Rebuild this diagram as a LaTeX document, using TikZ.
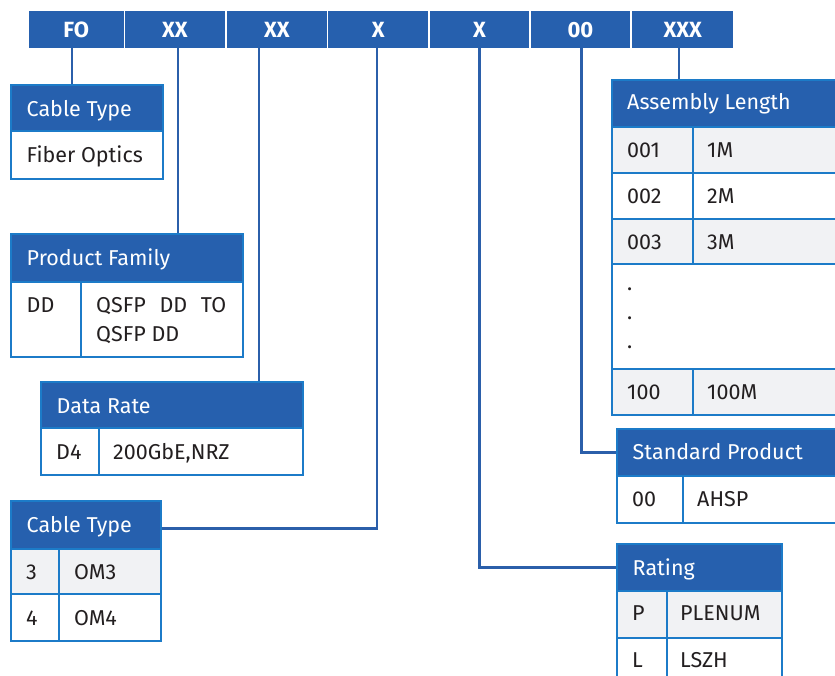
\documentclass[tikz,border=0pt]{standalone}
\usepackage{fontspec}
\setmainfont{Fira Sans}
\definecolor{hdrblue}{HTML}{2660AE}
\definecolor{bordblue}{HTML}{1C7BC8}
\definecolor{linkblue}{HTML}{2B5FAA}
\definecolor{rowgray}{HTML}{F1F2F4}
\definecolor{txtdark}{HTML}{231F20}
\tikzset{
  codebox/.style={fill=hdrblue, draw=none, anchor=north west, minimum height=37pt, inner sep=0pt, text=white, font=\fontsize{22}{22}\selectfont\bfseries},
  tcell/.style={draw=bordblue, line width=2pt, anchor=north west, inner sep=0pt},
  hcell/.style={tcell, fill=hdrblue},
  wcell/.style={tcell, fill=white},
  gcell/.style={tcell, fill=rowgray},
  htext/.style={anchor=base west, inner sep=0pt, text=white, font=\fontsize{21.5}{21.5}\selectfont},
  btext/.style={anchor=base west, inner sep=0pt, text=txtdark, font=\fontsize{21.5}{21.5}\selectfont},
  conn/.style={draw=linkblue, line width=2.2pt}
}
\begin{document}
\begin{tikzpicture}[x=1pt,y=-1pt]
\useasboundingbox (0,0) rectangle (835,675);
\clip (0,0) rectangle (835,675);
% code bar
\node[codebox, minimum width=95pt] (kFO) at (28.5,11) {FO};
\node[codebox, minimum width=99.5pt] (kXXa) at (125,11) {XX};
\node[codebox, minimum width=99.5pt] (kXXb) at (227,11) {XX};
\node[codebox, minimum width=100pt] (kXa) at (328,11) {X};
\node[codebox, minimum width=98.5pt] (kXb) at (430,11) {X};
\node[codebox, minimum width=98.5pt] (kOO) at (531,11) {00};
\node[codebox, minimum width=101pt] (kXXX) at (632,11) {XXX};
% Cable Type 1
\node[hcell, minimum width=152pt, minimum height=46pt] (cth) at (10,84) {};
\node[wcell, minimum width=152pt, minimum height=48pt] (ctb) at (10,130) {};
\node[htext] (ctht) at (26.5,116) {Cable Type};
\node[btext] (ctbt) at (26.5,162) {Fiber Optics};
% Product Family
\node[hcell, minimum width=232pt, minimum height=48pt] (pfh) at (10,233) {};
\node[wcell, minimum width=70pt, minimum height=75pt] (pfa) at (10,281) {};
\node[wcell, minimum width=162pt, minimum height=75pt] (pfb) at (80,281) {};
\node[htext] (pfht) at (26.5,265) {Product Family};
\node[btext] (pfat) at (26.5,312) {DD};
\node[btext] (pfbt) at (96,312) {\makebox[130pt][s]{QSFP DD TO}};
\node[btext] (pfbu) at (96,341) {QSFP DD};
% Data Rate
\node[hcell, minimum width=262pt, minimum height=46.5pt] (drh) at (40,380.5) {};
\node[wcell, minimum width=58pt, minimum height=47pt] (dra) at (40,427) {};
\node[wcell, minimum width=204pt, minimum height=47pt] (drb) at (98,427) {};
\node[htext] (drht) at (56.5,413) {Data Rate};
\node[btext] (drat) at (56,459) {D4};
\node[btext] (drbt) at (113,459) {200GbE,NRZ};
% Cable Type 2
\node[hcell, minimum width=150pt, minimum height=48pt] (ct2h) at (10,500) {};
\node[gcell, minimum width=48pt, minimum height=45pt] (ct2a) at (10,548) {};
\node[gcell, minimum width=102pt, minimum height=45pt] (ct2b) at (58,548) {};
\node[wcell, minimum width=48pt, minimum height=46.5pt] (ct2c) at (10,593) {};
\node[wcell, minimum width=102pt, minimum height=46.5pt] (ct2d) at (58,593) {};
\node[htext] (ct2ht) at (26.5,532) {Cable Type};
\node[btext] (ct2at) at (26,579) {3};
\node[btext] (ct2bt) at (74,579) {OM3};
\node[btext] (ct2ct) at (26,625) {4};
\node[btext] (ct2dt) at (74,625) {OM4};
% Assembly Length
\node[hcell, minimum width=240pt, minimum height=47.5pt] (alh) at (611,78.5) {};
\node[gcell, minimum width=81pt, minimum height=46pt] (al1a) at (611,126) {};
\node[gcell, minimum width=159pt, minimum height=46pt] (al1b) at (692,126) {};
\node[wcell, minimum width=81pt, minimum height=46pt] (al2a) at (611,172) {};
\node[wcell, minimum width=159pt, minimum height=46pt] (al2b) at (692,172) {};
\node[gcell, minimum width=81pt, minimum height=45pt] (al3a) at (611,218) {};
\node[gcell, minimum width=159pt, minimum height=45pt] (al3b) at (692,218) {};
\node[wcell, minimum width=240pt, minimum height=105pt] (aldot) at (611,263) {};
\node[gcell, minimum width=81pt, minimum height=46pt] (al4a) at (611,368) {};
\node[gcell, minimum width=159pt, minimum height=46pt] (al4b) at (692,368) {};
\node[htext] (alht) at (627,109) {Assembly Length};
\node[btext] (al1at) at (627,157) {001};
\node[btext] (al1bt) at (707,157) {1M};
\node[btext] (al2at) at (627,203) {002};
\node[btext] (al2bt) at (707,203) {2M};
\node[btext] (al3at) at (627,249) {003};
\node[btext] (al3bt) at (707,249) {3M};
\node[btext] (aldota) at (627,290) {.};
\node[btext] (aldotb) at (627,319) {.};
\node[btext] (aldotc) at (627,348) {.};
\node[btext] (al4at) at (627,399) {100};
\node[btext] (al4bt) at (707,399) {100M};
% Standard Product
\node[hcell, minimum width=240pt, minimum height=47pt] (sph) at (616,428) {};
\node[wcell, minimum width=66pt, minimum height=47pt] (spa) at (616,475) {};
\node[wcell, minimum width=174pt, minimum height=47pt] (spb) at (682,475) {};
\node[htext] (spht) at (632.5,459) {Standard Product};
\node[btext] (spat) at (632,506) {00};
\node[btext] (spbt) at (697,506) {AHSP};
% Rating
\node[hcell, minimum width=165pt, minimum height=47pt] (rth) at (616,543) {};
\node[gcell, minimum width=49.5pt, minimum height=46.5pt] (rta) at (616,590) {};
\node[gcell, minimum width=115.5pt, minimum height=46.5pt] (rtb) at (665.5,590) {};
\node[wcell, minimum width=49.5pt, minimum height=46.5pt] (rtc) at (616,636.5) {};
\node[wcell, minimum width=115.5pt, minimum height=46.5pt] (rtd) at (665.5,636.5) {};
\node[htext] (rtht) at (632.5,575) {Rating};
\node[btext] (rtat) at (632,620) {P};
\node[btext] (rtbt) at (680,620) {PLENUM};
\node[btext] (rtct) at (632,667) {L};
\node[btext] (rtdt) at (680,667) {LSZH};
% connectors
\coordinate (pFO) at ([xshift=-4pt]kFO.south);
\coordinate (pXXa) at ([xshift=3pt]kXXa.south);
\coordinate (pXXb) at ([xshift=-18pt]kXXb.south);
\coordinate (pXa) at ([xshift=-1pt]kXa.south);
\coordinate (pXb) at (kXb.south);
\coordinate (pOO) at ([xshift=1pt]kOO.south);
\coordinate (pXXX) at ([xshift=-3.5pt]kXXX.south);
\draw[conn] (pFO) -- (pFO |- cth.north);
\draw[conn] (pXXa) -- (pXXa |- pfh.north);
\draw[conn] (pXXb) -- (pXXb |- drh.north);
\draw[conn] (pXa) |- ([yshift=-3.5pt]ct2h.east);
\draw[conn] (pXb) |- (rth.west);
\draw[conn] (pOO) |- (sph.west);
\draw[conn] (pXXX) -- (pXXX |- alh.north);
\end{tikzpicture}
\end{document}
